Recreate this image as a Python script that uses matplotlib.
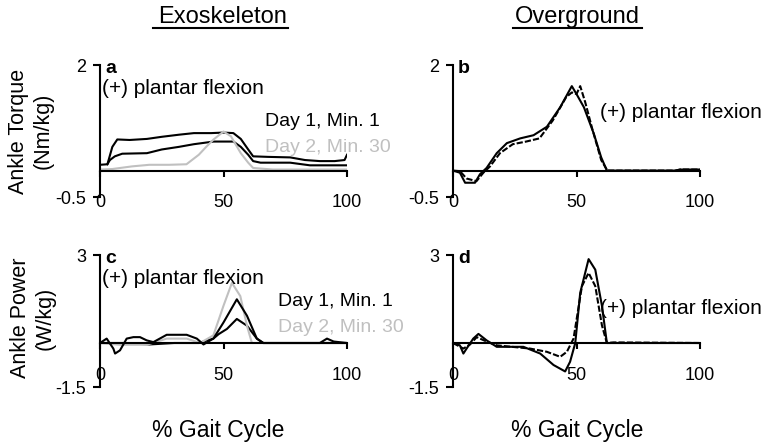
import matplotlib
matplotlib.use("Agg")
from matplotlib import pyplot as plt

plt.rcParams['font.family'] = ['Liberation Sans', 'DejaVu Sans']

W, H = 775, 447
gris = '#c0c0c0'

# --- a : exoskeleton ankle torque ---
a_j1_haut_x = [0, 3, 5, 7, 12, 19, 25, 32, 38, 45, 50, 54, 57, 60, 62, 68, 77, 83, 89, 95, 99, 100]
a_j1_haut_y = [0.11, 0.12, 0.45, 0.59, 0.58, 0.6, 0.64, 0.68, 0.71, 0.71, 0.72, 0.71, 0.6, 0.4, 0.27, 0.26, 0.25, 0.2, 0.18, 0.18, 0.2, 0.3]
a_j1_bas_x = [3, 4, 6, 9, 19, 25, 32, 38, 46, 50, 54, 57, 60, 62, 65, 77, 85, 100]
a_j1_bas_y = [0.12, 0.2, 0.27, 0.32, 0.33, 0.4, 0.45, 0.5, 0.55, 0.55, 0.55, 0.45, 0.3, 0.18, 0.15, 0.15, 0.1, 0.1]
a_j2_x = [0, 5, 13, 20, 28, 35, 40, 43, 46, 50, 53, 57, 60, 62, 70, 100]
a_j2_y = [0.02, 0.03, 0.08, 0.11, 0.11, 0.12, 0.3, 0.45, 0.59, 0.74, 0.65, 0.33, 0.15, 0.05, 0.02, 0.02]

# --- b : overground ankle torque ---
b_l1_x = [0, 2.8, 4.9, 8.9, 10.9, 13.6, 17.7, 21.8, 27.2, 32.6, 38, 43.4, 48.1, 50, 53, 57, 60, 62.3, 90, 92, 100]
b_l1_y = [0, -0.04, -0.23, -0.23, -0.07, 0.05, 0.33, 0.52, 0.61, 0.67, 0.83, 1.2, 1.6, 1.45, 1.2, 0.7, 0.25, 0, 0, 0.02, 0.02]
b_l2_x = [0, 2.8, 5.5, 9.5, 12.3, 15, 19, 24.2, 29.6, 35, 40.4, 45.8, 48.1, 50, 51.5, 53.5, 56.5, 60, 62.5, 90, 92, 100]
b_l2_y = [0, -0.01, -0.15, -0.2, -0.04, 0.08, 0.33, 0.5, 0.55, 0.61, 0.95, 1.39, 1.48, 1.45, 1.6, 1.3, 0.77, 0.2, 0, 0, 0.02, 0.02]

# --- c : exoskeleton ankle power ---
c_j1_x = [0, 2.7, 5.4, 6.1, 8.1, 10.8, 13.5, 16.2, 18.9, 21.6, 27, 35.1, 39.2, 41.9, 45.9, 50, 55.4, 59.5, 63.5, 66.2, 89, 91.9, 94.6, 100]
c_j1_y = [0, 0.15, -0.19, -0.36, -0.25, 0.15, 0.2, 0.2, 0.09, 0.03, 0.28, 0.28, 0.15, -0.05, 0.15, 0.7, 1.49, 0.93, 0.15, 0, 0, 0.15, 0.05, 0]
c_j1b_x = [0, 10, 20, 30, 40, 45.9, 48, 51.4, 55.4, 59.5, 63.5, 66, 100]
c_j1b_y = [0, 0, -0.05, 0, 0, 0.15, 0.3, 0.48, 0.82, 0.59, 0.15, 0, 0]
c_j2_x = [0, 8.1, 16.2, 18.9, 27, 35.1, 40.5, 45.9, 50, 53.4, 56.8, 59.5, 61.5, 100]
c_j2_y = [0, -0.06, -0.06, -0.06, 0.15, 0.15, 0, 0.26, 1.27, 2.05, 1.6, 0.59, 0, 0]

# --- d : overground ankle power ---
d_l1_x = [0, 2.8, 4.2, 5.5, 8.2, 10.3, 13.6, 17.7, 28.5, 35.3, 40.7, 45.4, 47.4, 49.5, 51.5, 54.9, 57.6, 60.3, 62.3, 70.4, 99.5]
d_l1_y = [0, -0.08, -0.36, -0.19, 0.15, 0.31, 0.09, -0.13, -0.13, -0.36, -0.75, -0.97, -0.64, 0, 1.71, 2.86, 2.5, 1.27, 0, 0, 0]
d_l2_x = [0, 4.2, 6.9, 9.6, 13.6, 17.7, 31.2, 38, 43.4, 46.1, 48.8, 52.2, 54.9, 57.6, 60.3, 62.3, 65, 99.5]
d_l2_y = [0, -0.19, -0.05, 0.2, 0.05, -0.08, -0.19, -0.3, -0.47, -0.3, 0.15, 1.94, 2.39, 1.94, 0.6, 0, 0.02, 0]

x_ticks = [0, 50, 100]
lim_couple = (-0.5, 2)
lim_puissance = (-1.5, 3)


def px(x, y):
    return x / W, 1 - y / H


def axe(gauche, haut, ylim, lettre):
    bas = haut + 132
    ax = fig.add_axes([gauche / W, 1 - bas / H, 247 / W, 132 / H])
    ax.set_xlim(0, 100)
    ax.set_ylim(*ylim)
    for s in ['top', 'right']:
        ax.spines[s].set_visible(False)
    ax.spines['bottom'].set_position(('data', 0))
    ax.spines['bottom'].set_linewidth(1.5)
    ax.spines['left'].set_linewidth(1.5)
    ax.set_xticks(x_ticks)
    ax.set_xticklabels([str(v) for v in x_ticks])
    ax.set_yticks(list(ylim))
    ax.set_yticklabels(['%g' % v for v in ylim])
    ax.tick_params(axis='x', direction='out', length=4, width=1.5, pad=13, labelsize=13)
    ax.tick_params(axis='y', direction='out', length=5, width=1.5, pad=5, labelsize=13)
    ax.text(0.02, 1.04, lettre, transform=ax.transAxes, fontsize=14,
            fontweight='bold', va='top', ha='left')
    return ax


fig = plt.figure(figsize=(W / 100, H / 100), dpi=100)

ax_a = axe(100, 65, lim_couple, 'a')
ax_a.plot(a_j1_haut_x, a_j1_haut_y, color='black', lw=1.5)
ax_a.plot(a_j1_bas_x, a_j1_bas_y, color='black', lw=1.5)
ax_a.plot(a_j2_x, a_j2_y, color=gris, lw=1.5)

ax_b = axe(453, 65, lim_couple, 'b')
ax_b.plot(b_l1_x, b_l1_y, color='black', lw=1.5)
ax_b.plot(b_l2_x, b_l2_y, color='black', lw=1.5, ls=(0, (3, 1)))

ax_c = axe(100, 255, lim_puissance, 'c')
ax_c.plot(c_j1b_x, c_j1b_y, color='black', lw=1.5)
ax_c.plot(c_j2_x, c_j2_y, color=gris, lw=1.5)
ax_c.plot(c_j1_x, c_j1_y, color='black', lw=1.5)

ax_d = axe(453, 255, lim_puissance, 'd')
ax_d.plot(d_l1_x, d_l1_y, color='black', lw=1.5)
ax_d.plot(d_l2_x, d_l2_y, color='black', lw=1.5, ls=(0, (3, 1)))

# titres de colonnes (soulignés)
for xc, titre in [(223, 'Exoskeleton'), (577, 'Overground')]:
    fig.text(*px(xc, 17), titre, fontsize=17, ha='center', va='center')
fig.lines.append(plt.Line2D([153 / W, 288 / W], [1 - 28 / H] * 2, color='black', lw=1.5, transform=fig.transFigure))
fig.lines.append(plt.Line2D([513 / W, 642 / W], [1 - 28 / H] * 2, color='black', lw=1.5, transform=fig.transFigure))

# étiquettes des axes
fig.text(*px(31, 131), 'Ankle Torque\n(Nm/kg)', fontsize=15.5, rotation=90,
         ha='center', va='center', multialignment='center')
fig.text(*px(33, 318), 'Ankle Power\n(W/kg)', fontsize=15.5, rotation=90,
         ha='center', va='center', multialignment='center')
for xc in [218, 577]:
    fig.text(*px(xc, 431), '% Gait Cycle', fontsize=16.5, ha='center', va='center')

# annotations
fig.text(*px(102, 89), '(+) plantar flexion', fontsize=15, va='center')
fig.text(*px(600, 112), '(+) plantar flexion', fontsize=15, va='center')
fig.text(*px(102, 279), '(+) plantar flexion', fontsize=15, va='center')
fig.text(*px(600, 308), '(+) plantar flexion', fontsize=15, va='center')
fig.text(*px(265, 121), 'Day 1, Min. 1', fontsize=14, va='center')
fig.text(*px(265, 147), 'Day 2, Min. 30', fontsize=14, va='center', color=gris)
fig.text(*px(278, 302), 'Day 1, Min. 1', fontsize=14, va='center')
fig.text(*px(278, 328), 'Day 2, Min. 30', fontsize=14, va='center', color=gris)

fig.savefig('out.png', dpi=100)
